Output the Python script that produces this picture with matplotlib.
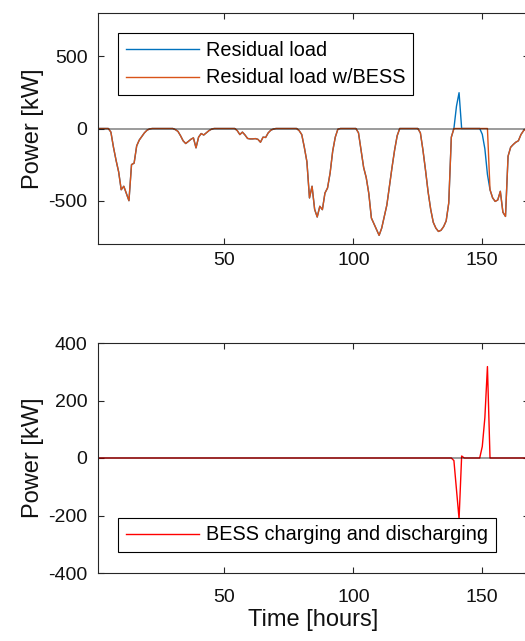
import numpy as np
import matplotlib
matplotlib.use("Agg")
import matplotlib.pyplot as plt

plt.rcParams['font.family'] = ['Liberation Sans', 'DejaVu Sans']
plt.rcParams['axes.unicode_minus'] = False

hours = np.arange(1, 169)

# Residual load [kW], hours 1..168
residual = [
    0, 0, 0, 0, 0, -25, -130, -220, -300, -424,            # 1-10
    -400, -450, -500, -250, -240, -120, -80, -55, -30, -12,  # 11-20
    -3, 0, 0, 0, 0, 0, 0, 0, 0, 0,                           # 21-30
    -8, -20, -50, -85, -104, -90, -75, -65, -134, -60,       # 31-40
    -35, -45, -30, -15, -5, 0, 0, 0, 0, 0,                   # 41-50
    0, 0, 0, 0, -15, -42, -25, -45, -69, -72,                # 51-60
    -72, -70, -75, -95, -60, -62, -30, -12, -4, 0,           # 61-70
    0, 0, 0, 0, 0, 0, 0, 0, -15, -42,                        # 71-80
    -130, -230, -481, -400, -560, -613, -539, -562, -447, -412,  # 81-90
    -308, -157, -60, -5, 0, 0, 0, 0, 0, 0,                   # 91-100
    0, -30, -150, -270, -340, -450, -620, -660, -700, -740,  # 101-110
    -690, -610, -530, -400, -270, -150, -50, 0, 0, 0,        # 111-120
    0, 0, 0, 0, 0, -30, -150, -290, -440, -560,              # 121-130
    -650, -690, -713, -705, -680, -640, -516, -60, 0, 155,   # 131-140
    248, 0, 0, 0, 0, 0, 0, 0, 0, -40,                        # 141-150
    -140, -318, -424, -480, -505, -495, -435, -580, -609, -192,  # 151-160
    -130, -111, -95, -85, -42, -15, 0, 0,                    # 161-168
]

# Residual load with BESS: same as residual except hours 139..152
bess_hours = np.arange(139, 153)
residual_bess_override = [0, 0, 0, 0, 0, 0, 0, 0, 0, 0, 0, 0, 0, 0]

# BESS charging (-) / discharging (+) power [kW]
bess_nonzero_hours = [139, 140, 141, 142, 150, 151, 152]
bess_nonzero_vals = [-9, -110, -212, 7, 40, 140, 318]

residual = np.array(residual, dtype=float)
residual_bess = residual.copy()
residual_bess[bess_hours - 1] = residual_bess_override
bess = np.zeros(len(hours))
bess[np.array(bess_nonzero_hours) - 1] = bess_nonzero_vals

blue = '#0072BD'
orange = '#D95319'
spine_c = '#262626'
text_c = '#111111'

fig = plt.figure(figsize=(5.25, 6.41), dpi=100)
W, H = 525, 641

def add_ax(left, top, right, bottom):
    return fig.add_axes([left / W, 1 - bottom / H, (right - left) / W, (bottom - top) / H])

ax1 = add_ax(98, 13, 528.7, 244)
ax2 = add_ax(98, 343, 528.7, 573)

for ax in (ax1, ax2):
    ax.set_xlim(1, 168)
    ax.set_xticks([50, 100, 150])
    ax.tick_params(direction='in', length=4, width=0.8, top=True, right=True,
                   labelsize=14, colors=spine_c, labelcolor=text_c)
    ax.tick_params(axis='y', pad=7.5)
    for s in ax.spines.values():
        s.set_color(spine_c)
        s.set_linewidth(0.8)
ax1.tick_params(axis='x', pad=6)
ax2.tick_params(axis='x', pad=11.5)

leg_kw = dict(fontsize=14.3, handlelength=3.7, handletextpad=0.35, borderpad=0.38,
              fancybox=False, framealpha=1, edgecolor='black', borderaxespad=0)

ax1.plot(hours, residual, color=blue, lw=1.0, label='Residual load')
ax1.plot(hours, residual_bess, color=orange, lw=1.0, label='Residual load w/BESS')
ax1.axhline(0, color='black', alpha=0.5, lw=1.1)
ax1.set_ylim(-800, 800)
ax1.set_yticks([-500, 0, 500])
ax1.set_ylabel('Power [kW]', fontsize=17, color=text_c)
leg1 = ax1.legend(loc='upper left', bbox_to_anchor=(20 / 430.7, 1 - 20 / 231),
                  labelspacing=0.45, **leg_kw)
leg1.get_frame().set_linewidth(0.8)

ax2.plot(hours, bess, color='red', lw=1.0, label='BESS charging and discharging')
ax2.axhline(0, color='black', alpha=0.5, lw=1.1)
ax2.set_ylim(-400, 400)
ax2.set_yticks([-400, -200, 0, 200, 400])
ax2.set_ylabel('Power [kW]', fontsize=17, color=text_c)
ax2.set_xlabel('Time [hours]', fontsize=17, color=text_c)
leg2 = ax2.legend(loc='lower left', bbox_to_anchor=(20 / 430.7, 21 / 230), **leg_kw)
leg2.get_frame().set_linewidth(0.8)

ax1.yaxis.set_label_coords(-0.125, 0.5)
ax2.yaxis.set_label_coords(-0.125, 0.5)
ax2.xaxis.set_label_coords(0.5, -0.158)

fig.savefig('out.png', dpi=100)
